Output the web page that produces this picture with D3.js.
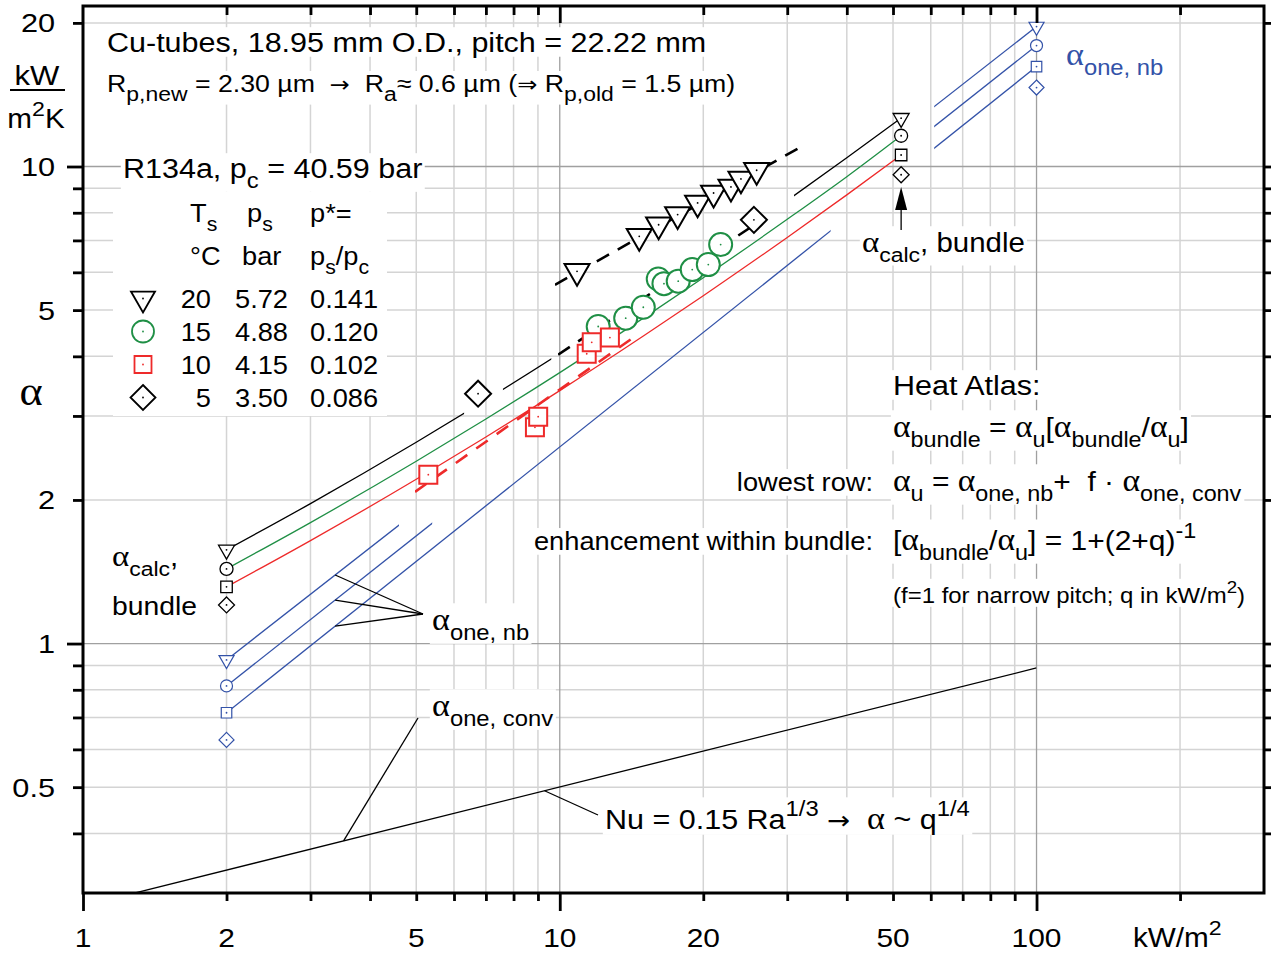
<!DOCTYPE html>
<html>
<head>
<meta charset="utf-8">
<script src="https://cdn.jsdelivr.net/npm/d3@7"></script>
<style>
  body { margin: 0; background: #fff; }
  svg { display: block; }
  text { font-family: "Liberation Sans", Arial, sans-serif; white-space: pre; }
</style>
</head>
<body>
<div id="chart"></div>
<script>
// ---- DATA -----------------------------------------------------------
// heat flux q in kW/m2, heat transfer coefficient alpha in kW/m2K

// measurements (R134a, Ts = 20 / 15 / 10 / 5 C)
var q20 = [10.87, 14.68, 16.12, 17.67, 19.46, 21.02, 22.86, 23.99, 25.88];
var a20 = [6.03, 7.14, 7.55, 7.93, 8.39, 8.80, 9.06, 9.42, 9.82];
var q15 = [12.04, 13.75, 14.97, 16.09, 16.54, 17.72, 18.96, 20.49, 21.75];
var a15 = [4.62, 4.81, 5.07, 5.81, 5.68, 5.75, 6.08, 6.23, 6.86];
var q10 = [5.30, 8.87, 9.01, 11.39, 11.67, 12.74];
var a10 = [2.26, 2.84, 2.99, 4.05, 4.28, 4.38];
var q5 = [6.74, 25.54];
var a5 = [3.34, 7.73];

// Heat Atlas calculation for the bundle
var qCalc = [2, 3, 5, 7, 10, 15, 20, 30, 40, 52];
var calc20 = [1.572, 1.965, 2.642, 3.240, 4.053, 5.280, 6.408, 8.49, 10.43, 12.63];
var calc15 = [1.434, 1.793, 2.411, 2.956, 3.698, 4.817, 5.847, 7.75, 9.52, 11.6];
var calc10 = [1.315, 1.644, 2.210, 2.710, 3.390, 4.417, 5.360, 7.10, 8.72, 10.57];
var calc5 = [1.205, 9.61]; // end markers only

// single tube, nucleate boiling
var qNb = [2, 100];
var nb20 = [0.924, 19.65];
var nb15 = [0.815, 17.93];
var nb10 = [0.716, 16.20];
var nb5 = [0.628, 14.64];

// single tube, free convection (Nu = 0.15 Ra^1/3)
var qConv = [1.25, 100];
var aConv = [0.298, 0.889];

// dashed trend lines through the measurements
var trend20q = [9.77, 32.4];
var trend20a = [5.65, 11.06];
var trend10q = [4.97, 14.45];
var trend10a = [2.08, 4.42];
var trend5q = [25.06, 9.91];
var trend5a = [7.44, 4.03];

// parts of the lines that are shown (q ranges)
var calc20Parts = [[2, 6.3], [7.6, 9.6], [31, 52]];
var nb20Parts = [[2, 4.6], [61, 100]];
var nb15Parts = [[2, 5.4], [61, 100]];
var nb10Parts = [[2, 37], [61, 100]];

// legend table
var legendT = ["20", "15", "10", "5"];
var legendP = ["5.72", "4.88", "4.15", "3.50"];
var legendPr = ["0.141", "0.120", "0.102", "0.086"];

// tick labels
var xTickLabels = [1, 2, 5, 10, 20, 50, 100];
var yTickLabels = [0.5, 1, 2, 5, 10, 20];

// ---- VARIABLES --------------------------------------------------------

var w = 1271;
var h = 955;
var pL = 83, pR = 1264, pT = 6, pB = 893;
var blue = "#3352a8", green = "#1f8f45", red = "#ee2a2a";

var x = d3.scaleLog().domain([1, 300]).range([pL, pR]);
var y = d3.scaleLog().domain([0.3, 21.7]).range([pB, pT]);

var series = [
  { shape: "tri", color: "#000", q: q20, a: a20, calc: calc20, calcColor: "#000", calcParts: calc20Parts, nb: nb20, nbParts: nb20Parts },
  { shape: "circ", color: green, q: q15, a: a15, calc: calc15, calcColor: green, calcParts: null, nb: nb15, nbParts: nb15Parts },
  { shape: "sq", color: red, q: q10, a: a10, calc: calc10, calcColor: red, calcParts: null, nb: nb10, nbParts: nb10Parts },
  { shape: "dia", color: "#000", q: q5, a: a5, calc: null, nb: nb5, nbParts: null }
];

var svg = d3.select("#chart").append("svg")
  .attr("width", w)
  .attr("height", h);

var defs = svg.append("defs");

var layerGrid = svg.append("g");
var layerText = svg.append("g");
var layerLines = svg.append("g");
var layerMarks = svg.append("g");
var layerAxes = svg.append("g");

// ---- GRID -------------------------------------------------------------

var xMinor = [2, 3, 4, 5, 6, 7, 8, 9, 20, 30, 40, 50, 60, 70, 80, 90, 200];
var yMinor = [0.4, 0.5, 0.6, 0.7, 0.8, 0.9, 2, 3, 4, 5, 6, 7, 8, 9, 20];
var xMajor = [10, 100], yMajor = [1, 10];

layerGrid.selectAll(".gx").data(xMinor).enter().append("line")
  .attr("x1", function(d) { return x(d); }).attr("x2", function(d) { return x(d); })
  .attr("y1", pT).attr("y2", pB)
  .attr("stroke", "#d4d4d4").attr("stroke-width", 1.5);
layerGrid.selectAll(".gy").data(yMinor).enter().append("line")
  .attr("y1", function(d) { return y(d); }).attr("y2", function(d) { return y(d); })
  .attr("x1", pL).attr("x2", pR)
  .attr("stroke", "#d4d4d4").attr("stroke-width", 1.5);
layerGrid.selectAll(".gxm").data(xMajor).enter().append("line")
  .attr("x1", function(d) { return x(d); }).attr("x2", function(d) { return x(d); })
  .attr("y1", pT).attr("y2", pB)
  .attr("stroke", "#a0a0a0").attr("stroke-width", 1.3);
layerGrid.selectAll(".gym").data(yMajor).enter().append("line")
  .attr("y1", function(d) { return y(d); }).attr("y2", function(d) { return y(d); })
  .attr("x1", pL).attr("x2", pR)
  .attr("stroke", "#a0a0a0").attr("stroke-width", 1.3);

// ---- TEXT HELPER ------------------------------------------------------

var symFont = { "\u03b1": "Liberation Serif, serif", "\u2192": "DejaVu Sans", "\u21d2": "DejaVu Sans" };

// parts: "plain" or [text, "sub"|"sup"]; alpha and arrows get their own font
function richText(parent, px, py, parts, o) {
  o = o || {};
  var fs = o.size || 27;
  var sx = o.sx || 1.09;
  var g = parent.append("g")
    .attr("transform", "translate(" + px + "," + py + ") scale(" + sx + ",1)");
  var t = g.append("text")
    .attr("font-size", fs)
    .attr("text-anchor", o.anchor || "start")
    .attr("fill", o.color || "#000");
  var shift = 0;
  parts.forEach(function(p) {
    var s = typeof p === "string" ? p : p[0];
    var kind = typeof p === "string" ? "" : p[1];
    var target = kind === "sub" ? fs * 0.36 : kind === "sup" ? -fs * 0.45 : 0;
    var size = kind ? fs * (o.subScale || 0.78) : fs;
    var first = true;
    s.split(/([\u03b1\u2192\u21d2])/).forEach(function(piece) {
      if (piece === "") return;
      var ts = t.append("tspan").attr("font-size", size).text(piece);
      if (symFont[piece]) {
        ts.attr("font-family", symFont[piece]);
        if (piece === "\u03b1") ts.attr("font-size", size * 1.12);
        else ts.attr("font-size", size * 0.9);
      }
      if (first) { ts.attr("dy", target - shift); first = false; }
    });
    shift = target;
  });
  if (o.bg !== false) {
    var b = t.node().getBBox();
    g.insert("rect", "text")
      .attr("x", b.x - 2).attr("y", b.y + 1)
      .attr("width", b.width + 4).attr("height", b.height - 2)
      .attr("fill", "#fff");
  }
  return t;
}

// ---- ANNOTATIONS ------------------------------------------------------

richText(layerText, 107, 52, ["Cu-tubes, 18.95 mm O.D., pitch = 22.22 mm"], { size: 28 });
richText(layerText, 107, 92, ["R", ["p,new", "sub"], " = 2.30 µm  \u2192  R", ["a", "sub"], "\u2248 0.6 µm (\u21d2 R", ["p,old", "sub"], " = 1.5 µm)"], { size: 24.5, subScale: 0.86 });
richText(layerText, 123, 178, ["R134a, p", ["c", "sub"], " = 40.59 bar"], { size: 28 });

// legend table
layerText.append("rect").attr("x", 113).attr("y", 192).attr("width", 274).attr("height", 224).attr("fill", "#fff");
richText(layerText, 190, 222, ["T", ["s", "sub"]], { size: 25, bg: false });
richText(layerText, 247, 222, ["p", ["s", "sub"]], { size: 25, bg: false });
richText(layerText, 310, 222, ["p*="], { size: 25, bg: false });
richText(layerText, 190, 265, ["°C"], { size: 25, bg: false });
richText(layerText, 242, 265, ["bar"], { size: 25, bg: false });
richText(layerText, 310, 265, ["p", ["s", "sub"], "/p", ["c", "sub"]], { size: 25, bg: false });
legendT.forEach(function(d, i) {
  var by = 308 + i * 33;
  richText(layerText, 211, by, [d], { size: 25, anchor: "end", bg: false });
  richText(layerText, 235, by, [legendP[i]], { size: 25, bg: false });
  richText(layerText, 310, by, [legendPr[i]], { size: 25, bg: false });
});

// Heat Atlas block
richText(layerText, 893, 395, ["Heat Atlas:"], { size: 28 });
richText(layerText, 893, 437, ["\u03b1", ["bundle", "sub"], " = \u03b1", ["u", "sub"], "[\u03b1", ["bundle", "sub"], "/\u03b1", ["u", "sub"], "]"], { size: 27.5 });
richText(layerText, 873, 491, ["lowest row:"], { size: 25, anchor: "end" });
richText(layerText, 893, 491, ["\u03b1", ["u", "sub"], " = \u03b1", ["one, nb", "sub"], "+  f \u00b7 \u03b1", ["one, conv", "sub"]], { size: 27.5 });
richText(layerText, 873, 550, ["enhancement within bundle:"], { size: 25, anchor: "end" });
richText(layerText, 893, 550, ["[\u03b1", ["bundle", "sub"], "/\u03b1", ["u", "sub"], "] = 1+(2+q)", ["-1", "sup"]], { size: 27.5 });
richText(layerText, 893, 603, ["(f=1 for narrow pitch; q in kW/m", ["2", "sup"], ")"], { size: 22 });

// labels of the lines
richText(layerText, 862, 252, ["\u03b1", ["calc", "sub"], ", bundle"], { size: 27 });
richText(layerText, 112, 566, ["\u03b1", ["calc", "sub"], ","], { size: 27 });
richText(layerText, 112, 615, ["bundle"], { size: 26 });
richText(layerText, 432, 630, ["\u03b1", ["one, nb", "sub"]], { size: 28 });
richText(layerText, 432, 716, ["\u03b1", ["one, conv", "sub"]], { size: 28 });
richText(layerText, 1066, 65, ["\u03b1", ["one, nb", "sub"]], { size: 28, color: blue });
richText(layerText, 605, 829, ["Nu = 0.15 Ra", ["1/3", "sup"], " \u2192  \u03b1 ~ q", ["1/4", "sup"]], { size: 28 });

// ---- LINES ------------------------------------------------------------

var lineGen = d3.line()
  .x(function(d) { return x(d[0]); })
  .y(function(d) { return y(d[1]); })
  .curve(d3.curveMonotoneX);

var clipN = 0;
function drawLine(qs, as, parts, color, sw, dash) {
  var pts = qs.map(function(q, i) { return [q, as[i]]; });
  var d = lineGen(pts);
  var lo = d3.min(qs), hi = d3.max(qs);
  (parts || [[lo, hi]]).forEach(function(r) {
    var id = "piece" + (clipN++);
    defs.append("clipPath").attr("id", id).append("rect")
      .attr("x", x(r[0])).attr("y", pT)
      .attr("width", x(r[1]) - x(r[0])).attr("height", pB - pT);
    layerLines.append("path")
      .attr("d", d)
      .attr("clip-path", "url(#" + id + ")")
      .attr("fill", "none")
      .attr("stroke", color)
      .attr("stroke-width", sw)
      .attr("stroke-dasharray", dash || null);
  });
}

// value on a straight log-log line between two points
function onLine(qs, as, q) {
  var t = Math.log(q / qs[0]) / Math.log(qs[1] / qs[0]);
  return as[0] * Math.pow(as[1] / as[0], t);
}

// free convection
drawLine(qConv, aConv, [[1.25, 100]], "#000", 1.3);

// single tube nucleate boiling
series.forEach(function(s) {
  if (s.nbParts) drawLine(qNb, s.nb, s.nbParts, blue, 1.3);
});

// bundle calculation
series.forEach(function(s) {
  if (s.calc) drawLine(qCalc, s.calc, s.calcParts, s.calcColor, 1.3);
});

// trend lines through the measurements
drawLine(trend20q, trend20a, null, "#000", 2.6, "14,10");
drawLine(trend10q, trend10a, null, red, 2.6, "14,11");
drawLine(trend5q, trend5a, null, "#000", 2.6, "14,10");

// leader lines
var lead = layerLines.append("g").attr("stroke", "#000").attr("stroke-width", 1.3).attr("fill", "none");
[nb20, nb15, nb10].forEach(function(nb) {
  var qq = 3.38;
  lead.append("line")
    .attr("x1", 423).attr("y1", 614)
    .attr("x2", x(qq)).attr("y2", y(onLine(qNb, nb, qq)));
});
lead.append("line").attr("x1", 418).attr("y1", 718)
  .attr("x2", x(3.52)).attr("y2", y(onLine(qConv, aConv, 3.52)));
lead.append("line").attr("x1", 598).attr("y1", 815)
  .attr("x2", x(9.29)).attr("y2", y(onLine(qConv, aConv, 9.29)));

// arrow to the calculated bundle values
lead.append("line").attr("x1", x(52)).attr("y1", 230).attr("x2", x(52)).attr("y2", 206);
layerLines.append("path")
  .attr("d", "M" + x(52) + ",187L" + (x(52) - 6) + ",210L" + (x(52) + 6) + ",210Z")
  .attr("fill", "#000");

// ---- MARKERS ----------------------------------------------------------

function marker(g, shape, cx, cy, s, color, sw) {
  var el;
  if (shape === "circ") {
    el = g.append("circle").attr("cx", cx).attr("cy", cy).attr("r", s / 2);
  } else {
    var p;
    if (shape === "tri") {
      var th = s * 0.866;
      p = "M" + (cx - s / 2) + "," + (cy - th / 3) + "L" + (cx + s / 2) + "," + (cy - th / 3) +
        "L" + cx + "," + (cy + 2 * th / 3) + "Z";
    } else if (shape === "sq") {
      p = "M" + (cx - s / 2) + "," + (cy - s / 2) + "h" + s + "v" + s + "h" + (-s) + "Z";
    } else {
      p = "M" + cx + "," + (cy - s / 2) + "L" + (cx + s / 2) + "," + cy + "L" + cx + "," + (cy + s / 2) +
        "L" + (cx - s / 2) + "," + cy + "Z";
    }
    el = g.append("path").attr("d", p);
  }
  el.attr("fill", "#fff").attr("stroke", color).attr("stroke-width", sw);
  g.append("circle").attr("cx", cx).attr("cy", cy).attr("r", 0.9).attr("fill", color);
}

var bigSize = { tri: 25, circ: 23, sq: 18, dia: 26 };
var smallSize = { tri: 16, circ: 13, sq: 11.5, dia: 16 };

// measured points: circles first, then squares, triangles, diamonds
[1, 2, 0, 3].forEach(function(k) {
  var s = series[k];
  s.q.forEach(function(q, i) {
    marker(layerMarks, s.shape, x(q), y(s.a[i]), bigSize[s.shape], s.color, 2);
  });
});

// calculated bundle values and single tube values at the line ends
series.forEach(function(s) {
  var c = s.calc ? [s.calc[0], s.calc[s.calc.length - 1]] : calc5;
  marker(layerMarks, s.shape, x(qCalc[0]), y(c[0]), smallSize[s.shape], "#000", 1.3);
  marker(layerMarks, s.shape, x(qCalc[qCalc.length - 1]), y(c[1]), smallSize[s.shape], "#000", 1.3);
  marker(layerMarks, s.shape, x(qNb[0]), y(s.nb[0]), smallSize[s.shape] - 1, blue, 1.2);
  marker(layerMarks, s.shape, x(qNb[1]), y(s.nb[1]), smallSize[s.shape] - 1, blue, 1.2);
});

// legend markers
series.forEach(function(s, i) {
  marker(layerMarks, s.shape, 143, 298.5 + i * 33, bigSize[s.shape] - 1, s.color, 1.8);
});

// ---- AXES -------------------------------------------------------------

function styleAxis(g) {
  g.select(".domain").remove();
  g.selectAll(".tick line").attr("stroke", "#000").attr("stroke-width", 2.8);
}

var xMajorAll = [1, 10, 100];

layerAxes.append("g").attr("transform", "translate(0," + pB + ")")
  .call(d3.axisBottom(x).tickValues(xMinor).tickSize(8).tickFormat("")).call(styleAxis);
layerAxes.append("g").attr("transform", "translate(0," + pB + ")")
  .call(d3.axisBottom(x).tickValues(xMajorAll).tickSize(18).tickFormat("")).call(styleAxis);
layerAxes.append("g").attr("transform", "translate(0," + pT + ")")
  .call(d3.axisBottom(x).tickValues(xMinor).tickSize(9).tickFormat("")).call(styleAxis);
layerAxes.append("g").attr("transform", "translate(0," + pT + ")")
  .call(d3.axisBottom(x).tickValues(xMajor).tickSize(17).tickFormat("")).call(styleAxis);
layerAxes.append("g").attr("transform", "translate(" + pL + ",0)")
  .call(d3.axisLeft(y).tickValues(yMinor).tickSize(10).tickFormat("")).call(styleAxis);
layerAxes.append("g").attr("transform", "translate(" + pL + ",0)")
  .call(d3.axisLeft(y).tickValues(yMajor).tickSize(16).tickFormat("")).call(styleAxis);
layerAxes.append("g").attr("transform", "translate(" + pR + ",0)")
  .call(d3.axisRight(y).tickValues(yMinor.concat(yMajor)).tickSize(8).tickFormat("")).call(styleAxis);

layerAxes.append("rect")
  .attr("x", pL).attr("y", pT)
  .attr("width", pR - pL).attr("height", pB - pT)
  .attr("fill", "none").attr("stroke", "#000").attr("stroke-width", 3);

// tick labels
xTickLabels.forEach(function(d) {
  richText(layerAxes, x(d), 947, [String(d)], { size: 26, sx: 1.15, anchor: "middle", bg: false });
});
yTickLabels.forEach(function(d) {
  richText(layerAxes, 55, y(d) + 9.5, [String(d)], { size: 26, sx: 1.18, anchor: "end", bg: false });
});
richText(layerAxes, 1133, 947, ["kW/m", ["2", "sup"]], { size: 27, sx: 1.1, bg: false });

// axis titles
richText(layerAxes, 37, 85, ["kW"], { size: 27, sx: 1.15, anchor: "middle", bg: false });
layerAxes.append("line").attr("x1", 10).attr("x2", 65).attr("y1", 90).attr("y2", 90)
  .attr("stroke", "#000").attr("stroke-width", 2);
richText(layerAxes, 36, 128, ["m", ["2", "sup"], "K"], { size: 27, sx: 1.1, anchor: "middle", bg: false });
richText(layerAxes, 31, 405, ["\u03b1"], { size: 36, sx: 1.1, anchor: "middle", bg: false });
</script>
</body>
</html>
